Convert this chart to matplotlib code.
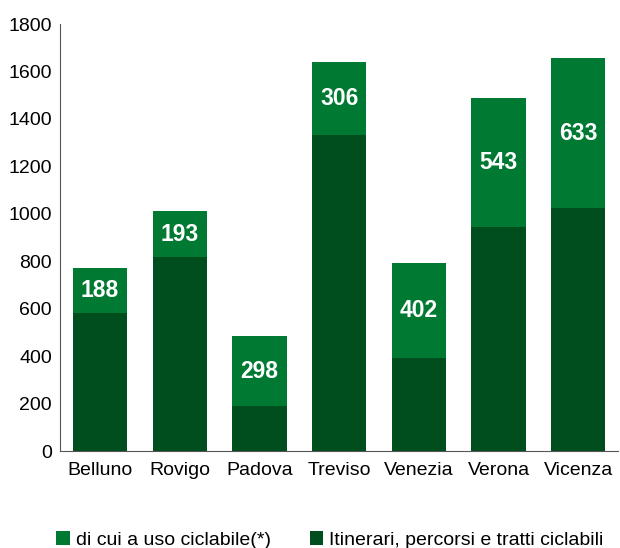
import matplotlib
matplotlib.use("Agg")
import matplotlib.pyplot as plt
import numpy as np

plt.rcParams["font.family"] = ["Liberation Sans", "DejaVu Sans"]

provinces = ["Belluno", "Rovigo", "Padova", "Treviso", "Venezia", "Verona", "Vicenza"]
itinerari = [583, 818, 188, 1333, 392, 944, 1024]
uso_ciclabile = [188, 193, 298, 306, 402, 543, 633]

dark_green = "#004D1D"
light_green = "#007A33"

fig = plt.figure(figsize=(6.2, 5.48), dpi=100)
ax = fig.add_axes([0.097, 0.177, 0.90, 0.779])

x = np.arange(len(provinces))
ax.bar(x, itinerari, width=0.68, color=dark_green, label="Itinerari, percorsi e tratti ciclabili")
ax.bar(x, uso_ciclabile, width=0.68, bottom=itinerari, color=light_green,
       label="di cui a uso ciclabile(*)")

for i, v in enumerate(uso_ciclabile):
    ax.text(x[i], itinerari[i] + v / 2, str(v), ha="center", va="center",
            color="white", fontsize=16.5, fontweight="bold")

ax.set_xlim(-0.5, len(provinces) - 0.5)
ax.set_ylim(0, 1800)
ax.set_yticks(range(0, 1801, 200))
ax.set_xticks(x)
ax.set_xticklabels(provinces)
ax.tick_params(length=0, labelsize=14, colors="black")
ax.tick_params(axis="x", pad=8)
ax.tick_params(axis="y", pad=6)
for s in ["top", "right"]:
    ax.spines[s].set_visible(False)
for s in ["left", "bottom"]:
    ax.spines[s].set_color("#555555")

handles, labels = ax.get_legend_handles_labels()
fig.legend(handles[::-1], labels[::-1], loc="lower center", bbox_to_anchor=(0.532, -0.033),
           ncol=2, frameon=False, fontsize=14, handlelength=0.7, handleheight=0.7,
           handletextpad=0.3, columnspacing=2.0)

fig.savefig("out.png", dpi=100)
